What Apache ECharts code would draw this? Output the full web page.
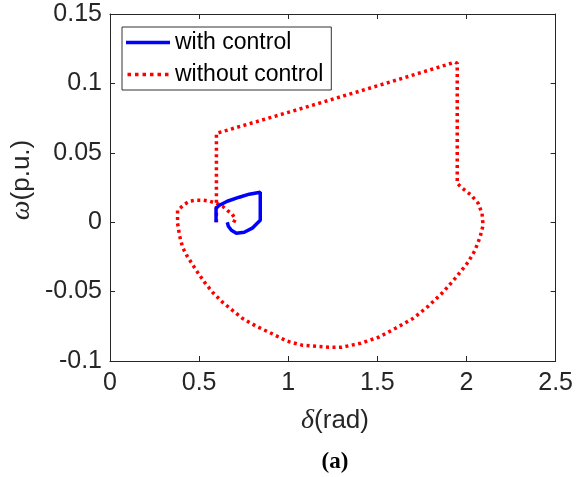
<!DOCTYPE html>
<html>
<head>
<meta charset="utf-8">
<script src="https://cdn.jsdelivr.net/npm/echarts@6/dist/echarts.min.js"></script>
<style>html,body{margin:0;padding:0;background:#fff;}#c{width:576px;height:477px;}</style>
</head>
<body>
<div id="c"></div>
<script>
// Data (delta in rad, omega in p.u.)
var withControlDelta = [0.595, 0.595, 0.614, 0.658, 0.725, 0.781, 0.843, 0.843, 0.826, 0.798, 0.753, 0.709, 0.681, 0.664, 0.658];
var withControlOmega = [0.0, 0.0101, 0.0122, 0.0151, 0.0180, 0.0202, 0.0216, 0.0014, -0.0007, -0.0043, -0.0072, -0.0079, -0.0058, -0.0029, 0.0];

var withoutControlDelta = [0.597, 0.597, 1.060, 1.546, 1.936, 1.948, 1.948, 1.970, 2.026, 2.065, 2.087, 2.093, 2.076, 2.048, 2.009, 1.942, 1.869, 1.786, 1.702, 1.602, 1.507, 1.406, 1.300, 1.228, 1.077, 0.993, 0.904, 0.820, 0.742, 0.686, 0.631, 0.575, 0.530, 0.491, 0.458, 0.430, 0.407, 0.391, 0.379, 0.379, 0.419, 0.446, 0.486, 0.519, 0.558, 0.597, 0.631, 0.658, 0.686, 0.703, 0.686];
var withoutControlOmega = [0.0, 0.064, 0.0814, 0.100, 0.1153, 0.1145, 0.028, 0.0252, 0.0195, 0.0137, 0.0065, -0.0022, -0.0108, -0.0202, -0.0288, -0.0396, -0.0504, -0.0605, -0.0692, -0.0764, -0.0829, -0.0872, -0.0901, -0.0901, -0.0886, -0.0857, -0.0800, -0.0749, -0.0692, -0.0634, -0.0576, -0.0504, -0.0432, -0.0360, -0.0295, -0.0238, -0.0180, -0.0101, -0.0007, 0.0086, 0.0130, 0.0151, 0.0159, 0.0159, 0.0151, 0.0137, 0.0115, 0.0086, 0.0058, 0.0022, -0.0022];

var seriesNames = ["with control", "without control"];
var xTickLabels = ["0", "0.5", "1", "1.5", "2", "2.5"];
var yTickLabels = ["-0.1", "-0.05", "0", "0.05", "0.1", "0.15"];
var xTickValues = [0, 0.5, 1, 1.5, 2, 2.5];
var yTickValues = [-0.1, -0.05, 0, 0.05, 0.1, 0.15];

function zip(a, b) { var r = []; for (var i = 0; i < a.length; i++) r.push([a[i], b[i]]); return r; }
function lab(vals, labels) {
  return function (v) {
    for (var i = 0; i < vals.length; i++) if (Math.abs(vals[i] - v) < 1e-9) return labels[i];
    return '';
  };
}

var axisColor = '#262626';
var tickFont = {color: '#262626', fontSize: 25, fontFamily: 'Liberation Sans, Arial'};
var dottedIcon = 'path://M0,0h3.5v3.5h-3.5z M7.5,0h3.5v3.5h-3.5z M15,0h3.5v3.5h-3.5z M22.5,0h3.5v3.5h-3.5z M30,0h3.5v3.5h-3.5z M37.5,0h3.5v3.5h-3.5z';
var chart = echarts.init(document.getElementById('c'), null, {renderer: 'canvas'});
chart.setOption({
  animation: false,
  backgroundColor: '#ffffff',
  grid: {left: 110, right: 18, top: 14, bottom: 116, containLabel: false},
  xAxis: [{
    type: 'value', min: 0, max: 2.5, interval: 0.5, position: 'bottom',
    axisLine: {show: true, onZero: false, lineStyle: {color: axisColor, width: 1}},
    axisTick: {show: true, inside: true, length: 5, lineStyle: {color: axisColor}},
    axisLabel: Object.assign({margin: 10, formatter: lab(xTickValues, xTickLabels)}, tickFont),
    splitLine: {show: false}
  }, {
    type: 'value', min: 0, max: 2.5, interval: 0.5, position: 'top',
    axisLine: {show: true, onZero: false, lineStyle: {color: axisColor, width: 1}},
    axisTick: {show: true, inside: true, length: 5, lineStyle: {color: axisColor}},
    axisLabel: {show: false}, splitLine: {show: false}
  }],
  yAxis: [{
    type: 'value', min: -0.1, max: 0.15, interval: 0.05, position: 'left',
    axisLine: {show: true, onZero: false, lineStyle: {color: axisColor, width: 1}},
    axisTick: {show: true, inside: true, length: 5, lineStyle: {color: axisColor}},
    axisLabel: Object.assign({margin: 8, formatter: lab(yTickValues, yTickLabels)}, tickFont),
    splitLine: {show: false}
  }, {
    type: 'value', min: -0.1, max: 0.15, interval: 0.05, position: 'right',
    axisLine: {show: true, onZero: false, lineStyle: {color: axisColor, width: 1}},
    axisTick: {show: true, inside: true, length: 5, lineStyle: {color: axisColor}},
    axisLabel: {show: false}, splitLine: {show: false}
  }],
  legend: {
    show: true, orient: 'vertical', left: 122, top: 27,
    padding: [4, 8, 4, 4], itemGap: 9, itemWidth: 44, itemHeight: 3.5,
    backgroundColor: '#ffffff', borderColor: '#333333', borderWidth: 1,
    textStyle: {fontSize: 23, lineHeight: 22, color: '#000', fontFamily: 'Liberation Sans, Arial'},
    data: [
      {name: seriesNames[0], icon: 'rect', itemStyle: {color: '#0000ff'}},
      {name: seriesNames[1], icon: dottedIcon, itemStyle: {color: '#ff0000'}}
    ]
  },
  series: [{
    name: seriesNames[1], type: 'line', xAxisIndex: 0, yAxisIndex: 0,
    data: zip(withoutControlDelta, withoutControlOmega),
    showSymbol: false, symbol: 'none', smooth: false, z: 2,
    lineStyle: {color: '#ff0000', width: 3.5, type: [3, 3.5], cap: 'butt'},
    itemStyle: {color: '#ff0000'}
  }, {
    name: seriesNames[0], type: 'line', xAxisIndex: 0, yAxisIndex: 0,
    data: zip(withControlDelta, withControlOmega),
    showSymbol: false, symbol: 'none', smooth: false, z: 3,
    lineStyle: {color: '#0000ff', width: 3.5, type: 'solid'},
    itemStyle: {color: '#0000ff'}
  }],
  graphic: [{
    type: 'text', x: 335, y: 421,
    style: {
      text: '{i|δ}{n|(rad)}', align: 'center', verticalAlign: 'middle',
      rich: {
        i: {fontFamily: 'Liberation Serif', fontStyle: 'italic', fontSize: 28, fill: '#262626'},
        n: {fontFamily: 'Liberation Sans', fontSize: 26, fill: '#262626'}
      }
    }
  }, {
    type: 'text', x: 22, y: 180, rotation: Math.PI / 2,
    style: {
      text: '{i|ω}{n|(p.u.)}', align: 'center', verticalAlign: 'middle',
      rich: {
        i: {fontFamily: 'Liberation Serif', fontStyle: 'italic', fontSize: 28, fill: '#262626'},
        n: {fontFamily: 'Liberation Sans', fontSize: 26, fill: '#262626'}
      }
    }
  }, {
    type: 'text', x: 335, y: 462,
    style: {
      text: '(a)', align: 'center', verticalAlign: 'middle',
      fontFamily: 'Liberation Serif', fontWeight: 'bold', fontSize: 23, fill: '#000'
    }
  }]
});
</script>
</body>
</html>
